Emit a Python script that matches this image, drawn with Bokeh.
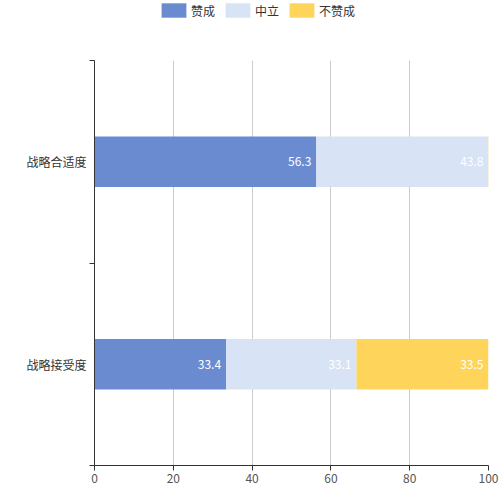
from bokeh.plotting import figure
from bokeh.layouts import column
from bokeh.models import Range1d, FixedTicker, Legend, LegendItem, ColumnDataSource
from bokeh.core.properties import value
from bokeh.embed import file_html
from bokeh.resources import INLINE

categories = ["战略接受度", "战略合适度"]  # bottom to top
series_names = ["赞成", "中立", "不赞成"]
favor = [33.4, 56.3]
neutral = [33.1, 43.8]
against = [33.5, 0.0]
x_ticks = [0, 20, 40, 60, 80, 100]

colors = ["#6a8bd0", "#d8e3f5", "#ffd45a"]
FONT = "Noto Sans CJK SC"

# ---------- legend strip ----------
lg = figure(width=500, height=24, output_backend="svg", toolbar_location=None,
            x_axis_location=None, y_axis_location=None,
            x_range=Range1d(0, 1), y_range=Range1d(0, 1), min_border=0,
            min_border_left=94, min_border_right=12)
lg.outline_line_color = None
lg.xgrid.visible = False
lg.ygrid.visible = False
# off-screen proxy bars so the legend has glyphs to draw
lg_rends = [lg.hbar(y=[-5], right=[0], height=0.1, color=c, line_color=None) for c in colors]
legend = Legend(items=[LegendItem(label=n, renderers=[r]) for n, r in zip(series_names, lg_rends)],
                orientation="horizontal", location=(64, 5),
                glyph_width=31, glyph_height=18, label_text_font=FONT,
                label_text_font_size="12px", label_text_color="#333333",
                label_standoff=2, spacing=7, padding=0, margin=0,
                border_line_color=None, background_fill_alpha=0,
                label_height=18)
lg.add_layout(legend, "center")

# ---------- main chart ----------
p = figure(width=500, height=468, output_backend="svg", toolbar_location=None,
           x_range=Range1d(0, 100), y_range=Range1d(0, len(categories)),
           min_border_left=94, min_border_right=12, min_border_top=36, min_border_bottom=27)
p.outline_line_color = None
p.background_fill_color = "white"
p.border_fill_color = "white"

ypos = [i + 0.5 for i in range(len(categories))]
src = ColumnDataSource(dict(y=ypos, favor=favor, neutral=neutral, against=against))
renderers = p.hbar_stack(["favor", "neutral", "against"], y="y", height=0.25,
                         color=colors, line_color=None, source=src)

cols = [favor, neutral, against]
for si, vals in enumerate(cols):
    xs, ys, ts = [], [], []
    for ci in range(len(categories)):
        v = vals[ci]
        if v <= 0:
            continue
        end = sum(cols[k][ci] for k in range(si + 1))
        xs.append(min(end, 100))
        ys.append(ypos[ci])
        ts.append(f"{v:.1f}")
    p.text(x=xs, y=ys, text=ts, text_align="right", text_baseline="middle",
           x_offset=-5, text_color="white", text_font=value(FONT),
           text_font_size="12px")

p.xaxis.ticker = FixedTicker(ticks=x_ticks)
p.xaxis.axis_line_color = "#333333"
p.xaxis.major_tick_line_color = "#333333"
p.xaxis.major_tick_out = 5
p.xaxis.major_tick_in = 0
p.xaxis.minor_tick_line_color = None
p.xaxis.major_label_text_font = FONT
p.xaxis.major_label_text_font_size = "12px"
p.xaxis.major_label_text_color = "#555555"
p.xaxis.major_label_standoff = 3

p.yaxis.ticker = FixedTicker(ticks=ypos, minor_ticks=list(range(len(categories) + 1)))
p.yaxis.major_label_overrides = {y: c for y, c in zip(ypos, categories)}
p.yaxis.axis_line_color = "#333333"
p.yaxis.major_tick_line_color = None
p.yaxis.major_tick_out = 0
p.yaxis.major_tick_in = 0
p.yaxis.minor_tick_line_color = "#333333"
p.yaxis.minor_tick_out = 5
p.yaxis.minor_tick_in = 0
p.yaxis.major_label_text_font = FONT
p.yaxis.major_label_text_font_size = "12px"
p.yaxis.major_label_text_color = "#333333"
p.yaxis.major_label_standoff = 3

p.xgrid.ticker = FixedTicker(ticks=x_ticks)
p.xgrid.grid_line_color = "#cccccc"
p.ygrid.grid_line_color = None

layout = column(lg, p, spacing=0)
open("out.html", "w").write(file_html(layout, INLINE))
